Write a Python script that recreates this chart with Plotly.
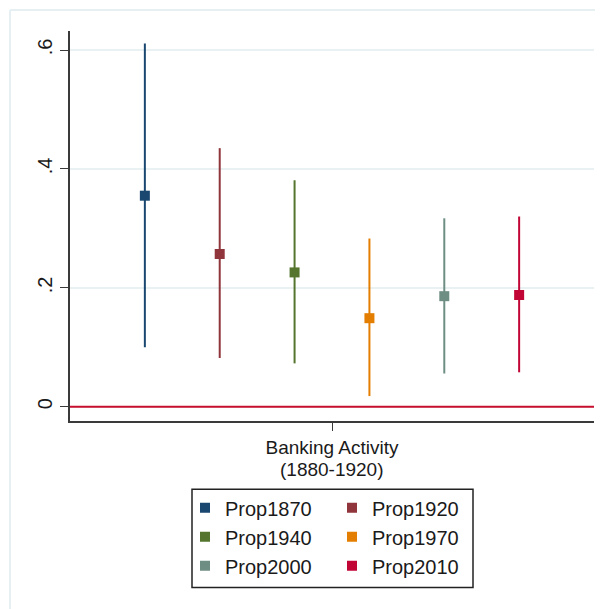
import plotly.graph_objects as go

labels = ["Prop1870", "Prop1920", "Prop1940", "Prop1970", "Prop2000", "Prop2010"]
coef = [0.355, 0.257, 0.226, 0.149, 0.186, 0.188]
lower = [0.100, 0.082, 0.073, 0.018, 0.056, 0.058]
upper = [0.611, 0.435, 0.381, 0.283, 0.317, 0.320]
colors = ["#1a476f", "#90353b", "#55752f", "#e37e00", "#6e8e84", "#c10534"]
group_label_lines = ["Banking Activity", "(1880-1920)"]
ytick_vals = [0, 0.2, 0.4, 0.6]
ytick_text = ["0", ".2", ".4", ".6"]

W, H = 603, 609
OFF = 8  # page body margin
L, T = 62, 23
pw, ph = 524, 389.7
R = W - L - pw
B = H - T - ph

def px2x(px):
    return (px - OFF - L) / pw

def px2y(py):
    return (H - B - (py - OFF)) / ph

fig = go.Figure()
for i, (lab, c, lo, hi, col) in enumerate(zip(labels, coef, lower, upper, colors)):
    fig.add_trace(go.Scatter(
        x=[i + 1], y=[c], mode="markers", name=lab,
        marker=dict(symbol="square", size=10, color=col),
        error_y=dict(type="data", symmetric=False, array=[hi - c], arrayminus=[c - lo],
                     color=col, thickness=2, width=0),
        legend="legend" if i % 2 == 0 else "legend2",
        showlegend=True,
    ))

fig.add_shape(type="line", xref="paper", yref="y", x0=0, x1=1, y0=0, y1=0,
              line=dict(color="#c8102e", width=2))
# faint outer frame
fig.add_shape(type="line", xref="paper", yref="paper", x0=px2x(10), x1=px2x(10), y0=px2y(640), y1=px2y(10),
              line=dict(color="#e6eff1", width=2))
fig.add_shape(type="line", xref="paper", yref="paper", x0=px2x(10), x1=px2x(640), y0=px2y(10), y1=px2y(10),
              line=dict(color="#e6eff1", width=2))
# legend box
fig.add_shape(type="rect", xref="paper", yref="paper", x0=px2x(192), x1=px2x(473), y0=px2y(587), y1=px2y(489),
              line=dict(color="#222222", width=1.5))

font = "Liberation Sans, Arial, sans-serif"
fig.add_annotation(x=3.5, xref="x", y=px2y(469), yref="paper", text=group_label_lines[1],
                   showarrow=False, font=dict(size=19, family=font, color="#1a1a1a"),
                   xanchor="center", yanchor="middle")

fig.update_layout(
    width=W, height=H,
    margin=dict(l=L, r=R, t=T, b=B),
    paper_bgcolor="white", plot_bgcolor="white",
    font=dict(family=font, color="#1a1a1a"),
    xaxis=dict(range=[0, 7], tickvals=[3.5], ticktext=[group_label_lines[0]], showgrid=False, zeroline=False,
               showline=True, linecolor="#3a3a3a", linewidth=1.5, ticks="outside", ticklen=8,
               tickcolor="#3a3a3a", tickfont=dict(size=19, family=font)),
    yaxis=dict(range=[-0.0239, 0.632], tickvals=ytick_vals, ticktext=ytick_text, tickangle=-90,
               showgrid=True, gridcolor="#e9f1f3", gridwidth=1.5, zeroline=False,
               showline=True, linecolor="#3a3a3a", linewidth=1.5, ticks="outside", ticklen=8,
               tickcolor="#3a3a3a", tickfont=dict(size=20, family=font)),
    legend=dict(x=px2x(185), y=px2y(488), xanchor="left", yanchor="top", bgcolor="rgba(0,0,0,0)",
                borderwidth=0, font=dict(size=20, family=font), orientation="v"),
    legend2=dict(x=px2x(332), y=px2y(488), xanchor="left", yanchor="top", bgcolor="rgba(0,0,0,0)",
                 borderwidth=0, font=dict(size=20, family=font), orientation="v"),
)

fig.write_html("out.html")
